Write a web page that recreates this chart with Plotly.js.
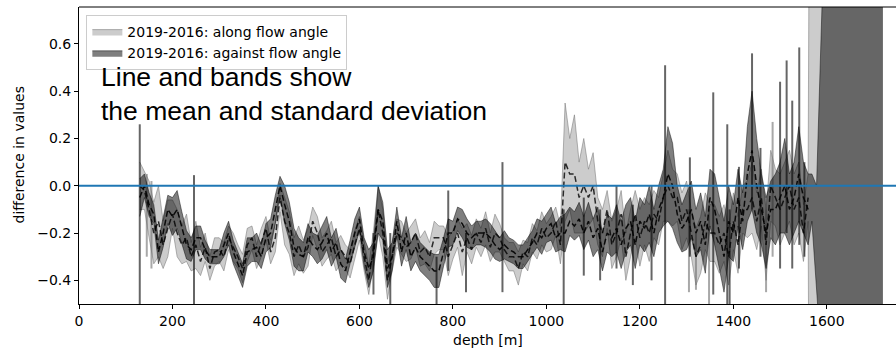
<!DOCTYPE html>
<html>
<head>
<meta charset="utf-8">
<script src="https://cdn.plot.ly/plotly-3.0.1.min.js"></script>
<style>html,body{margin:0;padding:0;background:#fff;}#chart{width:896px;height:350px;}</style>
</head>
<body>
<div id="chart"></div>
<script>
// depth [m]
const depth = [
  130,140,150,160,170,180,190,200,210,220,
  230,240,250,260,270,280,290,300,310,320,
  330,340,350,360,370,380,390,400,410,420,
  430,440,450,460,470,480,490,500,510,520,
  530,540,550,560,570,580,590,600,610,620,
  630,640,650,660,670,680,690,700,710,720,
  730,740,750,760,770,780,790,800,810,820,
  830,840,850,860,870,880,890,900,910,920,
  930,940,950,960,970,980,990,1000,1010,1020,
  1030,1040,1050,1060,1070,1080,1090,1100,1110,1120,
  1130,1140,1150,1160,1170,1180,1190,1200,1210,1220,
  1230,1240,1250,1260,1270,1280,1290,1300,1310,1320,
  1330,1340,1350,1360,1370,1380,1390,1400,1410,1420,
  1430,1440,1450,1460,1470,1480,1490,1500,1510,1520,
  1530,1540,1550,1560,1568,1578,1590,1600,1720
];
// 2019-2016: along flow angle (mean, std)
const alongMean = [
  0.0,-0.02,-0.1,-0.2,-0.15,-0.25,-0.18,-0.12,-0.2,-0.25,
  -0.22,-0.3,-0.25,-0.32,-0.26,-0.35,-0.28,-0.27,-0.3,-0.22,
  -0.26,-0.3,-0.35,-0.25,-0.22,-0.3,-0.24,-0.18,-0.28,-0.22,
  -0.05,-0.15,-0.2,-0.3,-0.25,-0.3,-0.26,-0.15,-0.2,-0.28,
  -0.25,-0.22,-0.3,-0.27,-0.3,-0.33,-0.25,-0.18,-0.3,-0.4,
  -0.26,-0.1,-0.2,-0.4,-0.3,-0.2,-0.22,-0.26,-0.24,-0.2,
  -0.28,-0.26,-0.3,-0.22,-0.22,-0.22,-0.3,-0.25,-0.2,-0.28,
  -0.22,-0.27,-0.2,-0.24,-0.18,-0.26,-0.2,-0.22,-0.27,-0.3,
  -0.3,-0.35,-0.28,-0.3,-0.22,-0.25,-0.18,-0.22,-0.2,-0.15,
  -0.25,0.1,0.05,0.05,-0.05,0.0,-0.05,0.0,-0.15,-0.2,
  -0.1,-0.25,-0.2,-0.12,-0.3,-0.2,-0.12,-0.22,-0.15,-0.2,
  -0.12,-0.15,-0.05,0.0,-0.05,-0.05,-0.15,-0.1,-0.2,-0.3,
  -0.25,-0.15,-0.2,-0.2,-0.25,-0.2,-0.3,-0.15,-0.25,-0.1,
  -0.1,-0.05,-0.15,-0.05,-0.25,0.0,-0.05,-0.1,-0.05,0.0,
  -0.1,-0.05,-0.2,-0.05,0.0,0.0,0.0,0.0,0.0
];
const alongStd = [
  0.1,0.08,0.12,0.13,0.15,0.1,0.12,0.06,0.1,0.08,
  0.1,0.06,0.1,0.06,0.06,0.05,0.06,0.05,0.06,0.05,
  0.06,0.05,0.06,0.07,0.05,0.05,0.06,0.05,0.05,0.06,
  0.06,0.1,0.09,0.08,0.08,0.07,0.08,0.06,0.07,0.06,
  0.06,0.07,0.06,0.06,0.05,0.06,0.06,0.05,0.06,0.06,
  0.07,0.1,0.1,0.08,0.06,0.06,0.07,0.06,0.07,0.06,
  0.06,0.07,0.06,0.07,0.05,0.05,0.08,0.06,0.06,0.1,
  0.06,0.06,0.06,0.06,0.07,0.06,0.08,0.06,0.05,0.06,
  0.06,0.07,0.05,0.06,0.06,0.06,0.07,0.06,0.07,0.06,
  0.08,0.25,0.15,0.25,0.15,0.2,0.12,0.14,0.1,0.1,
  0.08,0.1,0.1,0.1,0.1,0.1,0.1,0.12,0.1,0.12,
  0.1,0.1,0.1,0.15,0.12,0.1,0.12,0.12,0.1,0.12,
  0.12,0.12,0.12,0.12,0.12,0.12,0.12,0.12,0.12,0.1,
  0.12,0.15,0.12,0.12,0.15,0.15,0.12,0.15,0.15,0.15,
  0.15,0.15,0.12,0.1,4,4,4,4,4
];
// 2019-2016: against flow angle (mean, std)
const againstMean = [
  -0.05,0.0,-0.08,-0.12,-0.28,-0.2,-0.1,-0.13,-0.1,-0.18,
  -0.25,-0.27,-0.22,-0.22,-0.27,-0.3,-0.3,-0.3,-0.25,-0.2,
  -0.28,-0.33,-0.38,-0.28,-0.27,-0.26,-0.3,-0.22,-0.2,-0.1,
  0.0,-0.08,-0.15,-0.26,-0.29,-0.3,-0.22,-0.25,-0.27,-0.24,
  -0.2,-0.28,-0.24,-0.33,-0.36,-0.28,-0.2,-0.14,-0.28,-0.35,
  -0.3,-0.1,-0.15,-0.35,-0.3,-0.15,-0.28,-0.2,-0.3,-0.26,
  -0.3,-0.32,-0.34,-0.36,-0.36,-0.28,-0.2,-0.2,-0.14,-0.16,
  -0.2,-0.22,-0.2,-0.2,-0.2,-0.22,-0.25,-0.27,-0.25,-0.27,
  -0.28,-0.3,-0.3,-0.27,-0.24,-0.2,-0.22,-0.18,-0.16,-0.22,
  -0.2,-0.2,-0.15,-0.17,-0.14,-0.2,-0.15,-0.22,-0.18,-0.28,
  -0.2,-0.22,-0.18,-0.25,-0.18,-0.15,-0.25,-0.15,-0.18,-0.12,
  -0.2,-0.1,-0.05,0.05,0.0,-0.12,-0.18,-0.15,-0.1,-0.2,
  -0.15,-0.25,-0.05,-0.1,-0.2,-0.3,-0.15,-0.2,-0.05,-0.15,
  0.05,0.15,0.0,-0.1,-0.2,-0.1,-0.1,-0.05,0.0,-0.1,
  -0.05,0.05,-0.05,-0.1,-0.05,-0.25,0.0,0.0,0.0
];
const againstStd = [
  0.08,0.05,0.05,0.04,0.05,0.06,0.06,0.08,0.08,0.07,
  0.06,0.05,0.05,0.05,0.04,0.03,0.03,0.03,0.05,0.05,
  0.05,0.05,0.05,0.06,0.05,0.06,0.05,0.06,0.06,0.06,
  0.04,0.08,0.08,0.08,0.07,0.06,0.06,0.05,0.06,0.07,
  0.07,0.06,0.06,0.06,0.05,0.05,0.06,0.05,0.06,0.08,
  0.06,0.1,0.08,0.08,0.06,0.06,0.06,0.07,0.06,0.06,
  0.06,0.06,0.06,0.07,0.07,0.06,0.06,0.05,0.05,0.06,
  0.06,0.05,0.05,0.05,0.06,0.06,0.06,0.05,0.06,0.05,
  0.05,0.05,0.05,0.05,0.05,0.06,0.07,0.06,0.07,0.06,
  0.07,0.08,0.06,0.06,0.07,0.07,0.08,0.08,0.09,0.08,
  0.08,0.08,0.1,0.1,0.1,0.1,0.1,0.1,0.1,0.12,
  0.1,0.1,0.12,0.2,0.18,0.12,0.1,0.12,0.12,0.1,
  0.12,0.12,0.12,0.15,0.15,0.15,0.15,0.12,0.12,0.12,
  0.2,0.25,0.2,0.15,0.15,0.12,0.15,0.15,0.2,0.15,
  0.15,0.2,0.15,0.15,0.1,0.25,0.78,5,5
];
// narrow spikes: depth, lower and upper value
const againstSpikeDepth = [130,246,630,666,765,790,828,906,1037,1080,1115,1150,1185,1225,1254,1307,1357,1387,1392,1412,1440,1458,1500,1514,1526,1541,1552];
const againstSpikeLow   = [-0.6,-0.6,-0.46,-0.6,-0.6,-0.36,-0.45,-0.45,-0.6,-0.38,-0.4,-0.35,-0.42,-0.4,-0.6,-0.3,-0.46,-0.6,-0.6,-0.35,-0.1,-0.3,-0.35,-0.2,-0.35,-0.25,-0.3];
const againstSpikeHigh  = [0.26,0.045,-0.2,-0.2,-0.3,-0.02,-0.2,0.1,-0.1,-0.05,-0.1,0.0,-0.08,0.0,0.51,0.12,0.395,0.26,-0.1,0.08,0.56,0.16,0.44,0.53,0.36,0.585,0.1];
const alongSpikeDepth = [145,155,1305,1320,1348,1470,1484];
const alongSpikeLow   = [-0.3,-0.35,-0.45,-0.44,-0.5,-0.45,-0.3];
const alongSpikeHigh  = [0.05,0.02,-0.1,-0.2,-0.1,-0.1,0.27];

const xTicks = [0,200,400,600,800,1000,1200,1400,1600];
const yTicks = [-0.4,-0.2,0.0,0.2,0.4,0.6];
const yTickText = ['\u22120.4','\u22120.2','0.0','0.2','0.4','0.6'];
const lastMeanDepth = 1560;

const up = (m,s)=>m.map((v,i)=>v+s[i]);
const lo = (m,s)=>m.map((v,i)=>v-s[i]);
const keep = depth.map(d=>d<=lastMeanDepth);
const sel = arr=>arr.filter((v,i)=>keep[i]);
function segs(ds, lows, highs){
  const x=[], y=[];
  ds.forEach((d,i)=>{ x.push(d,d,null); y.push(lows[i],highs[i],null); });
  return {x,y};
}
const sA = segs(alongSpikeDepth, alongSpikeLow, alongSpikeHigh);
const sB = segs(againstSpikeDepth, againstSpikeLow, againstSpikeHigh);

const FONT = 'DejaVu Sans, sans-serif';
const traces = [
  {x:depth, y:lo(alongMean,alongStd), mode:'lines', line:{color:'rgba(110,110,110,0.5)',width:1}, showlegend:false, hoverinfo:'skip'},
  {x:depth, y:up(alongMean,alongStd), mode:'lines', fill:'tonexty', fillcolor:'rgba(128,128,128,0.4)', line:{color:'rgba(110,110,110,0.5)',width:1}, name:'2019-2016: along flow angle'},
  {x:sA.x, y:sA.y, mode:'lines', line:{color:'rgba(110,110,110,0.6)',width:2}, showlegend:false, connectgaps:false},
  {x:depth, y:lo(againstMean,againstStd), mode:'lines', line:{color:'rgba(0,0,0,0.45)',width:1}, showlegend:false, hoverinfo:'skip'},
  {x:depth, y:up(againstMean,againstStd), mode:'lines', fill:'tonexty', fillcolor:'rgba(0,0,0,0.5)', line:{color:'rgba(0,0,0,0.45)',width:1}, name:'2019-2016: against flow angle'},
  {x:sB.x, y:sB.y, mode:'lines', line:{color:'rgba(0,0,0,0.6)',width:2}, showlegend:false, connectgaps:false},
  {x:sel(depth), y:sel(alongMean), mode:'lines', line:{color:'rgba(0,0,0,0.8)',width:1.5,dash:'6px,3px'}, showlegend:false},
  {x:sel(depth), y:sel(againstMean), mode:'lines', line:{color:'rgba(0,0,0,0.9)',width:1.5,dash:'6px,3px'}, showlegend:false}
];

const layout = {
  width:896, height:350,
  margin:{l:79, r:0, t:7, b:46},
  paper_bgcolor:'#fff', plot_bgcolor:'#fff',
  font:{family:FONT, size:14, color:'#000'},
  showlegend:true,
  legend:{x:0.009, y:0.973, xanchor:'left', yanchor:'top', traceorder:'normal', bgcolor:'rgba(255,255,255,0.8)', bordercolor:'#cccccc', borderwidth:1, font:{family:FONT,size:14,color:'#000'}},
  xaxis:{range:[0,1748], tickvals:xTicks, ticks:'outside', ticklen:4, tickwidth:1, tickcolor:'#000', showline:true, linecolor:'#000', linewidth:1, showgrid:false, zeroline:false, tickfont:{family:FONT,size:14}},
  yaxis:{range:[-0.5,0.756], tickvals:yTicks, ticktext:yTickText, ticks:'outside', ticklen:4, tickwidth:1, tickcolor:'#000', showline:true, linecolor:'#000', linewidth:1, showgrid:false, zeroline:false, tickfont:{family:FONT,size:14}},
  shapes:[
    {type:'line', xref:'paper', yref:'y', x0:0, x1:1, y0:0, y1:0, line:{color:'#1f77b4', width:2}, layer:'above'},
    {type:'line', xref:'paper', yref:'paper', x0:0, x1:1, y0:1, y1:1, line:{color:'#000', width:1}, layer:'above'}
  ],
  annotations:[
    {text:'Line and bands show<br>the mean and standard deviation', xref:'paper', yref:'paper', x:0.0245, y:0.822, xanchor:'left', yanchor:'top', align:'left', showarrow:false, font:{family:'Liberation Sans, Arial, sans-serif', size:26.5, color:'#000'}},
    {text:'depth [m]', xref:'paper', yref:'paper', x:0.5, y:0, yshift:-36, xanchor:'center', yanchor:'middle', showarrow:false, font:{family:FONT,size:14,color:'#000'}},
    {text:'difference in values', xref:'paper', yref:'paper', x:0, y:0.5, xshift:-61, xanchor:'center', yanchor:'middle', textangle:-90, showarrow:false, font:{family:FONT,size:14,color:'#000'}}
  ]
};
Plotly.newPlot('chart', traces, layout, {staticPlot:true, displayModeBar:false});
</script>
</body>
</html>
